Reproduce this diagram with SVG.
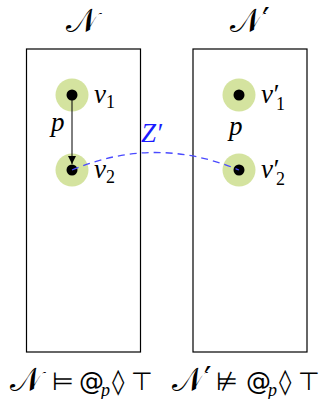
<svg xmlns="http://www.w3.org/2000/svg" width="327" height="399" viewBox="0 0 327 399">
<defs>
<style>
.box{fill:none;stroke:#000;stroke-width:1.2}
.halo{fill:#d4e39f}
.dot{fill:#000}
.m{font-family:"Liberation Serif","Times New Roman",serif;font-style:italic;font-size:27px;fill:#000}
.sub{font-family:"Liberation Serif","Times New Roman",serif;font-style:normal;font-size:18px}
.psub{font-family:"Liberation Serif","Times New Roman",serif;font-style:italic;font-size:18px}
.cal{font-family:"DejaVu Serif",serif;font-size:33px;fill:#000}
.r{font-family:"DejaVu Sans","Liberation Sans",sans-serif;font-size:25px;fill:#000}
</style>
<marker id="ah" viewBox="0 0 10 10" refX="10" refY="5" markerWidth="8" markerHeight="8" markerUnits="userSpaceOnUse" orient="auto">
<path d="M0,0 L10,5 L0,10 Z" fill="#000"/>
</marker>
</defs>
<rect x="0" y="0" width="327" height="399" fill="#fff"/>
<g id="boxN"><rect class="box" x="26.5" y="49" width="114" height="303"/><text class="cal" x="82" y="32" text-anchor="middle">𝒩</text></g>
<g id="boxN2"><rect class="box" x="193" y="49" width="114" height="303"/><text class="cal" x="250" y="32" text-anchor="middle">𝒩′</text></g>
<g id="v1"><circle class="halo" cx="72" cy="95" r="16.5"/><circle class="dot" cx="72" cy="95" r="5.5"/><text class="m" x="94" y="103">v<tspan class="sub" dy="5">1</tspan></text><text class="m" x="51" y="131">p</text></g>
<g id="v2"><circle class="halo" cx="72" cy="170" r="16.5"/><circle class="dot" cx="72" cy="170" r="5.5"/><text class="m" x="94" y="178">v<tspan class="sub" dy="5">2</tspan></text></g>
<g id="v1p"><circle class="halo" cx="239" cy="95" r="16.5"/><circle class="dot" cx="239" cy="95" r="5.5"/><text class="m" x="261" y="103">v<tspan dx="-1">′</tspan><tspan class="sub" x="276" y="110">1</tspan></text><text class="m" x="229" y="135">p</text></g>
<g id="v2p"><circle class="halo" cx="239" cy="170" r="16.5"/><circle class="dot" cx="239" cy="170" r="5.5"/><text class="m" x="261" y="178">v<tspan dx="-1">′</tspan><tspan class="sub" x="276" y="185">2</tspan></text></g>
<g id="connectors">
<line x1="72" y1="95" x2="72" y2="164" stroke="#000" stroke-width="1" marker-end="url(#ah)"/>
<path d="M72,170 Q155,135 239,170" fill="none" stroke="#4a4aff" stroke-width="1.3" stroke-dasharray="7,5"/>
<text x="141" y="142" class="m" style="fill:#1a1aff">Z′</text>
</g>
<g id="formulas">
<text class="cal" x="10" y="391">𝒩</text>
<text class="r" y="390"><tspan x="52">⊨</tspan><tspan x="79">@</tspan><tspan class="psub" x="101" y="396">p</tspan><tspan x="112" y="390">◊</tspan><tspan x="131">⊤</tspan></text>
<text class="cal" x="172" y="391">𝒩′</text>
<text class="r" y="390"><tspan x="216">⊭</tspan><tspan x="246">@</tspan><tspan class="psub" x="268" y="396">p</tspan><tspan x="279" y="390">◊</tspan><tspan x="298">⊤</tspan></text>
</g>
</svg>
